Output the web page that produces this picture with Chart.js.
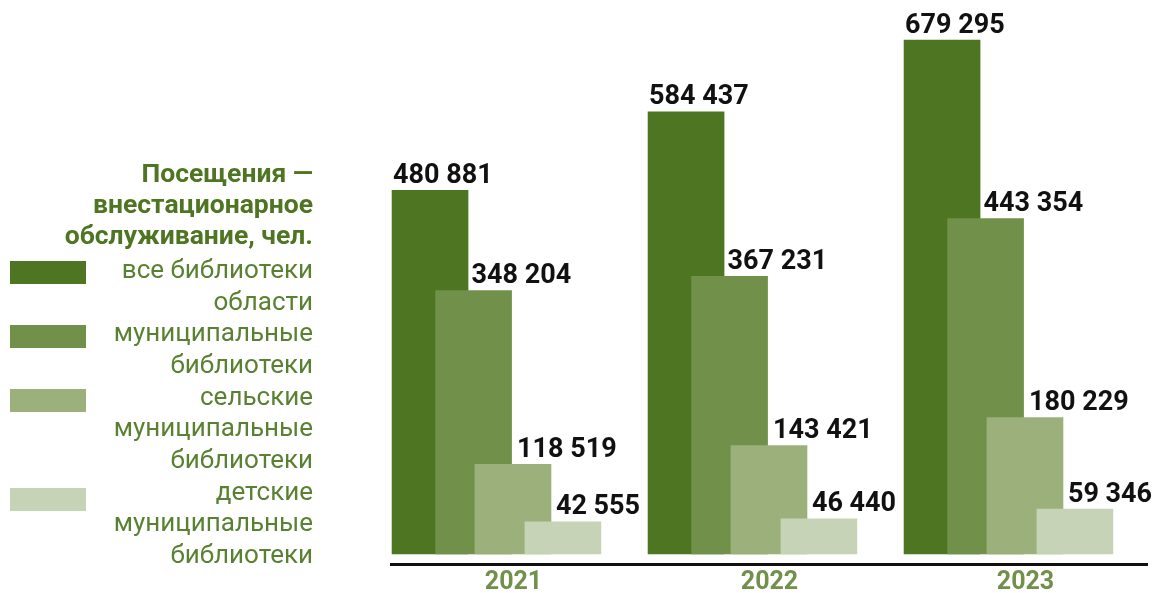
<!DOCTYPE html>
<html>
<head>
<meta charset="utf-8">
<script src="https://cdn.jsdelivr.net/npm/chart.js@4.4.1/dist/chart.umd.min.js"></script>
<style>
  html, body { margin: 0; padding: 0; background: #fff; overflow: hidden; }
  #wrap { width: 1152px; height: 593px; }
</style>
</head>
<body>
<div id="wrap"><canvas id="chart" width="1152" height="593"></canvas></div>
<script>
// данные
const years = ['2021', '2022', '2023'];
const allLibs = [480881, 584437, 679295];
const municipal = [348204, 367231, 443354];
const rural = [118519, 143421, 180229];
const children = [42555, 46440, 59346];

const titleLines = ['Посещения —', 'внестационарное', 'обслуживание, чел.'];
const seriesNames = [
    ['все библиотеки', 'области'],
    ['муниципальные', 'библиотеки'],
    ['сельские', 'муниципальные', 'библиотеки'],
    ['детские', 'муниципальные', 'библиотеки']
];

const colors = ['#4E7521', '#71904A', '#9BB07A', '#C6D3B7'];
// сдвиг столбика внутри группы (в долях шага по оси)
const barShift = [-0.326, -0.156, -0.002, 0.193];
// сдвиг подписи относительно центра столбика, px
const labelShift = [-37, -2, 4, -7];

const fmt = v => String(v).replace(/\B(?=(\d{3})+(?!\d))/g, ' ');

const series = [allLibs, municipal, rural, children];
const datasets = series.map((vals, k) => ({
    label: seriesNames[k].join(' '),
    data: vals.map((v, i) => ({ x: i + barShift[k], y: v })),
    backgroundColor: colors[k],
    borderWidth: 0,
    barThickness: 76,
    grouped: false,
    order: 4 - k // тёмный снизу, светлый сверху
}));

// подписи значений над столбиками
const valueLabels = {
    id: 'valueLabels',
    afterDatasetsDraw(chart) {
        const ctx = chart.ctx;
        ctx.save();
        ctx.font = 'bold 27px Roboto';
        ctx.fillStyle = '#111';
        ctx.textAlign = 'left';
        ctx.textBaseline = 'alphabetic';
        chart.data.datasets.forEach((ds, k) => {
            const meta = chart.getDatasetMeta(k);
            meta.data.forEach((bar, i) => {
                ctx.fillText(fmt(series[k][i]), bar.x + labelShift[k], bar.y - 7.5);
            });
        });
        ctx.restore();
    }
};

// легенда слева
const sideLegend = {
    id: 'sideLegend',
    afterDraw(chart) {
        const ctx = chart.ctx;
        const right = 313;
        ctx.save();
        ctx.textAlign = 'right';
        ctx.textBaseline = 'alphabetic';
        ctx.font = 'bold 26.5px Roboto';
        ctx.fillStyle = '#4E7521';
        titleLines.forEach((t, i) => ctx.fillText(t, right, 182 + i * 31));

        ctx.font = '26px Roboto';
        const swatchTop = [261, 325, 389, 488];
        let line = 0;
        seriesNames.forEach((lines, k) => {
            ctx.fillStyle = colors[k];
            ctx.fillRect(10, swatchTop[k], 76, 23);
            ctx.fillStyle = '#588232';
            lines.forEach(t => {
                ctx.fillText(t, right, 278 + line * 31.67);
                line++;
            });
        });
        ctx.restore();
    }
};

new Chart(document.getElementById('chart'), {
    type: 'bar',
    data: { datasets },
    options: {
        responsive: false,
        animation: false,
        layout: { padding: { left: 391, right: 5, top: 20, bottom: 0 } },
        plugins: {
            legend: { display: false },
            tooltip: { enabled: false }
        },
        scales: {
            x: {
                type: 'linear',
                offset: false,
                min: -0.4785,
                max: 2.4746,
                grid: { display: false, drawTicks: false, offset: false },
                border: { display: true, color: '#111', width: 3 },
                afterBuildTicks: s => { s.ticks = years.map((_, i) => ({ value: i })); },
                afterFit: s => { s.height = 29; },
                ticks: {
                    padding: 4,
                    maxRotation: 0,
                    autoSkip: false,
                    color: '#71904A',
                    font: { family: 'Roboto', size: 25, weight: 'bold' },
                    callback: v => years[Math.round(v)] ?? ''
                }
            },
            y: {
                display: false,
                min: -13200,
                max: 706000
            }
        }
    },
    plugins: [valueLabels, sideLegend]
});
</script>
</body>
</html>
